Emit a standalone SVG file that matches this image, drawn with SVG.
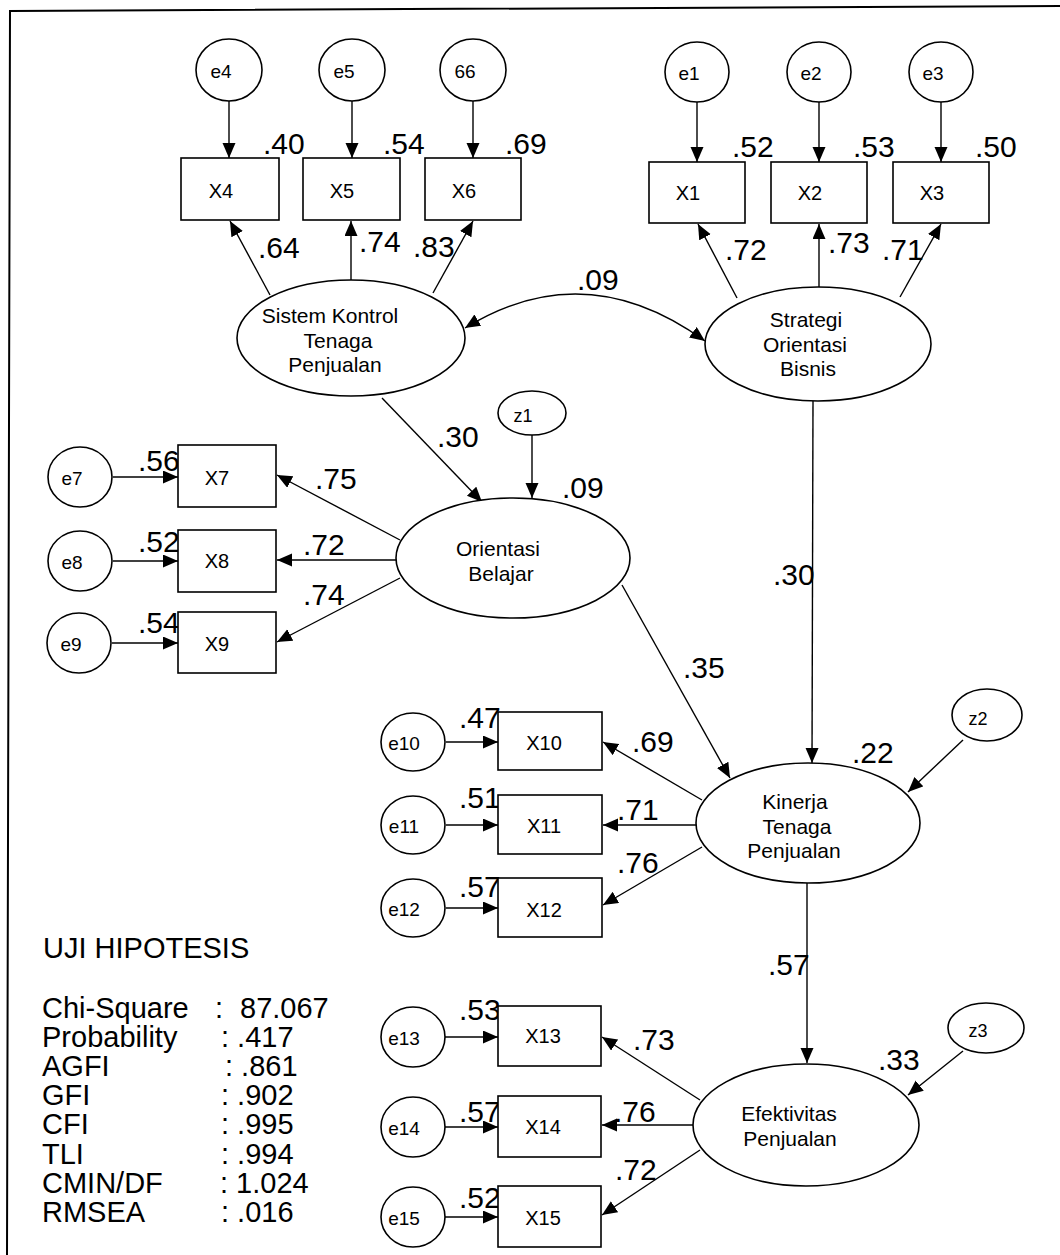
<svg xmlns="http://www.w3.org/2000/svg" width="1060" height="1255" viewBox="0 0 1060 1255">
<style>
text{font-family:"Liberation Sans",Arial,sans-serif;fill:#000}
.sh{fill:#fff;stroke:#000;stroke-width:1.6}
.ln{fill:none;stroke:#000;stroke-width:1.4}
.lab{font-size:30px}
.nt{font-size:21px;text-anchor:middle}
.bt{font-size:20px;text-anchor:middle}
.et{font-size:19px;text-anchor:middle}
.st{font-size:29px}
</style>
<defs>
<marker id="ah" markerUnits="userSpaceOnUse" markerWidth="16" markerHeight="14" refX="15" refY="6.5" orient="auto-start-reverse">
<path d="M0,0 L15,6.5 L0,13 z" fill="#000"/>
</marker>
</defs>
<rect width="1060" height="1255" fill="#fff"/>
<polyline points="7,1255 10,11 1060,6" fill="none" stroke="#000" stroke-width="2"/>

<g id="connectors">
<line class="ln" x1="229" y1="101" x2="229" y2="158" marker-end="url(#ah)"/>
<line class="ln" x1="352" y1="101" x2="352" y2="158" marker-end="url(#ah)"/>
<line class="ln" x1="473" y1="101" x2="473" y2="158" marker-end="url(#ah)"/>
<line class="ln" x1="697" y1="102" x2="697" y2="162" marker-end="url(#ah)"/>
<line class="ln" x1="819" y1="102" x2="819" y2="162" marker-end="url(#ah)"/>
<line class="ln" x1="941" y1="102" x2="941" y2="162" marker-end="url(#ah)"/>
<line class="ln" x1="270" y1="295" x2="230" y2="221" marker-end="url(#ah)"/>
<line class="ln" x1="351" y1="280" x2="351" y2="221" marker-end="url(#ah)"/>
<line class="ln" x1="433" y1="293" x2="473" y2="221" marker-end="url(#ah)"/>
<line class="ln" x1="737" y1="298" x2="698" y2="224" marker-end="url(#ah)"/>
<line class="ln" x1="819" y1="287" x2="819" y2="224" marker-end="url(#ah)"/>
<line class="ln" x1="900" y1="297" x2="941" y2="224" marker-end="url(#ah)"/>
<path class="ln" d="M465,328 Q585,254 705,341" marker-start="url(#ah)" marker-end="url(#ah)"/>
<line class="ln" x1="382" y1="398" x2="482" y2="502" marker-end="url(#ah)"/>
<line class="ln" x1="532" y1="435" x2="532" y2="498" marker-end="url(#ah)"/>
<line class="ln" x1="113" y1="477" x2="178" y2="477" marker-end="url(#ah)"/>
<line class="ln" x1="113" y1="561" x2="178" y2="561" marker-end="url(#ah)"/>
<line class="ln" x1="112" y1="643" x2="178" y2="643" marker-end="url(#ah)"/>
<line class="ln" x1="400" y1="540" x2="277" y2="475" marker-end="url(#ah)"/>
<line class="ln" x1="396" y1="560" x2="277" y2="560" marker-end="url(#ah)"/>
<line class="ln" x1="400" y1="578" x2="277" y2="642" marker-end="url(#ah)"/>
<line class="ln" x1="813" y1="401" x2="812" y2="763" marker-end="url(#ah)"/>
<line class="ln" x1="622" y1="585" x2="730" y2="778" marker-end="url(#ah)"/>
<line class="ln" x1="963" y1="740" x2="908" y2="792" marker-end="url(#ah)"/>
<line class="ln" x1="446" y1="742" x2="498" y2="742" marker-end="url(#ah)"/>
<line class="ln" x1="446" y1="825" x2="498" y2="825" marker-end="url(#ah)"/>
<line class="ln" x1="446" y1="908" x2="498" y2="908" marker-end="url(#ah)"/>
<line class="ln" x1="702" y1="800" x2="603" y2="742" marker-end="url(#ah)"/>
<line class="ln" x1="696" y1="825" x2="603" y2="825" marker-end="url(#ah)"/>
<line class="ln" x1="702" y1="847" x2="603" y2="905" marker-end="url(#ah)"/>
<line class="ln" x1="807" y1="883" x2="807" y2="1063" marker-end="url(#ah)"/>
<line class="ln" x1="963" y1="1051" x2="908" y2="1095" marker-end="url(#ah)"/>
<line class="ln" x1="445" y1="1037" x2="498" y2="1037" marker-end="url(#ah)"/>
<line class="ln" x1="445" y1="1127" x2="498" y2="1127" marker-end="url(#ah)"/>
<line class="ln" x1="445" y1="1217" x2="498" y2="1217" marker-end="url(#ah)"/>
<line class="ln" x1="700" y1="1100" x2="602" y2="1037" marker-end="url(#ah)"/>
<line class="ln" x1="693" y1="1125" x2="602" y2="1125" marker-end="url(#ah)"/>
<line class="ln" x1="700" y1="1150" x2="602" y2="1215" marker-end="url(#ah)"/>
</g>

<g id="connector-labels" class="lab">
<text x="263" y="154">.40</text>
<text x="383" y="154">.54</text>
<text x="505" y="154">.69</text>
<text x="732" y="157">.52</text>
<text x="853" y="157">.53</text>
<text x="975" y="157">.50</text>
<text x="258" y="258">.64</text>
<text x="359" y="252">.74</text>
<text x="413" y="257">.83</text>
<text x="725" y="260">.72</text>
<text x="828" y="253">.73</text>
<text x="882" y="260">.71</text>
<text x="577" y="290">.09</text>
<text x="437" y="447">.30</text>
<text x="562" y="498">.09</text>
<text x="138" y="471">.56</text>
<text x="138" y="552">.52</text>
<text x="138" y="633">.54</text>
<text x="315" y="489">.75</text>
<text x="303" y="555">.72</text>
<text x="303" y="605">.74</text>
<text x="773" y="585">.30</text>
<text x="683" y="678">.35</text>
<text x="852" y="763">.22</text>
<text x="459" y="728">.47</text>
<text x="459" y="808">.51</text>
<text x="459" y="897">.57</text>
<text x="632" y="752">.69</text>
<text x="617" y="820">.71</text>
<text x="617" y="873">.76</text>
<text x="768" y="975">.57</text>
<text x="878" y="1070">.33</text>
<text x="459" y="1020">.53</text>
<text x="459" y="1122">.57</text>
<text x="459" y="1208">.52</text>
<text x="633" y="1050">.73</text>
<text x="614" y="1122">.76</text>
<text x="615" y="1180">.72</text>
</g>

<g id="e4"><ellipse class="sh" cx="229" cy="70" rx="33" ry="31"/><text class="et" x="221" y="78">e4</text></g>
<g id="e5"><ellipse class="sh" cx="352" cy="70" rx="33" ry="31"/><text class="et" x="344" y="78">e5</text></g>
<g id="e66"><ellipse class="sh" cx="473" cy="70" rx="33" ry="31"/><text class="et" x="465" y="78">66</text></g>
<g id="e1"><ellipse class="sh" cx="697" cy="72" rx="32" ry="30"/><text class="et" x="689" y="80">e1</text></g>
<g id="e2"><ellipse class="sh" cx="819" cy="72" rx="32" ry="30"/><text class="et" x="811" y="80">e2</text></g>
<g id="e3"><ellipse class="sh" cx="941" cy="72" rx="32" ry="30"/><text class="et" x="933" y="80">e3</text></g>

<g id="X4"><rect class="sh" x="181" y="158" width="98" height="62"/><text class="bt" x="221" y="198">X4</text></g>
<g id="X5"><rect class="sh" x="303" y="158" width="97" height="62"/><text class="bt" x="342" y="198">X5</text></g>
<g id="X6"><rect class="sh" x="425" y="158" width="96" height="62"/><text class="bt" x="464" y="198">X6</text></g>
<g id="X1"><rect class="sh" x="649" y="162" width="96" height="61"/><text class="bt" x="688" y="200">X1</text></g>
<g id="X2"><rect class="sh" x="771" y="162" width="96" height="61"/><text class="bt" x="810" y="200">X2</text></g>
<g id="X3"><rect class="sh" x="893" y="162" width="96" height="61"/><text class="bt" x="932" y="200">X3</text></g>

<g id="SistemKontrol"><ellipse class="sh" cx="351" cy="338" rx="114" ry="58"/>
<text class="nt" x="330" y="323">Sistem Kontrol</text><text class="nt" x="338" y="347.5">Tenaga</text><text class="nt" x="335" y="372">Penjualan</text></g>
<g id="StrategiOrientasiBisnis"><ellipse class="sh" cx="818" cy="344" rx="113" ry="57"/>
<text class="nt" x="806" y="327">Strategi</text><text class="nt" x="805" y="351.5">Orientasi</text><text class="nt" x="808" y="376">Bisnis</text></g>

<g id="z1"><ellipse class="sh" cx="532" cy="413" rx="34" ry="22"/><text class="et" x="523" y="422" style="font-size:18px">z1</text></g>
<g id="OrientasiBelajar"><ellipse class="sh" cx="513" cy="558" rx="117" ry="60"/>
<text class="nt" x="498" y="556">Orientasi</text><text class="nt" x="501" y="580.5">Belajar</text></g>

<g id="e7"><ellipse class="sh" cx="80" cy="477" rx="32" ry="30"/><text class="et" x="72" y="485">e7</text></g>
<g id="e8"><ellipse class="sh" cx="80" cy="561" rx="32" ry="30"/><text class="et" x="72" y="569">e8</text></g>
<g id="e9"><ellipse class="sh" cx="79" cy="643" rx="32" ry="30"/><text class="et" x="71" y="651">e9</text></g>
<g id="X7"><rect class="sh" x="178" y="445" width="98" height="62"/><text class="bt" x="217" y="485">X7</text></g>
<g id="X8"><rect class="sh" x="178" y="530" width="98" height="62"/><text class="bt" x="217" y="568">X8</text></g>
<g id="X9"><rect class="sh" x="178" y="612" width="98" height="61"/><text class="bt" x="217" y="651">X9</text></g>

<g id="KinerjaTenagaPenjualan"><ellipse class="sh" cx="808" cy="823" rx="112" ry="60"/>
<text class="nt" x="795" y="809">Kinerja</text><text class="nt" x="797" y="833.5">Tenaga</text><text class="nt" x="794" y="858">Penjualan</text></g>
<g id="z2"><ellipse class="sh" cx="987" cy="715" rx="35" ry="26"/><text class="et" x="978" y="725" style="font-size:18px">z2</text></g>
<g id="e10"><ellipse class="sh" cx="413" cy="742" rx="32" ry="29"/><text class="et" x="404" y="750">e10</text></g>
<g id="e11"><ellipse class="sh" cx="413" cy="825" rx="32" ry="29"/><text class="et" x="404" y="833">e11</text></g>
<g id="e12"><ellipse class="sh" cx="413" cy="908" rx="32" ry="29"/><text class="et" x="404" y="916">e12</text></g>
<g id="X10"><rect class="sh" x="498" y="712" width="104" height="58"/><text class="bt" x="544" y="750">X10</text></g>
<g id="X11"><rect class="sh" x="498" y="795" width="104" height="59"/><text class="bt" x="544" y="833">X11</text></g>
<g id="X12"><rect class="sh" x="498" y="878" width="104" height="59"/><text class="bt" x="544" y="917">X12</text></g>

<g id="EfektivitasPenjualan"><ellipse class="sh" cx="806" cy="1125" rx="113" ry="61"/>
<text class="nt" x="789" y="1121">Efektivitas</text><text class="nt" x="790" y="1145.5">Penjualan</text></g>
<g id="z3"><ellipse class="sh" cx="986" cy="1028" rx="38" ry="25"/><text class="et" x="978" y="1037" style="font-size:18px">z3</text></g>
<g id="e13"><ellipse class="sh" cx="413" cy="1037" rx="32" ry="30"/><text class="et" x="404" y="1045">e13</text></g>
<g id="e14"><ellipse class="sh" cx="413" cy="1127" rx="32" ry="30"/><text class="et" x="404" y="1135">e14</text></g>
<g id="e15"><ellipse class="sh" cx="413" cy="1217" rx="32" ry="30"/><text class="et" x="404" y="1225">e15</text></g>
<g id="X13"><rect class="sh" x="498" y="1006" width="103" height="60"/><text class="bt" x="543" y="1043">X13</text></g>
<g id="X14"><rect class="sh" x="498" y="1096" width="103" height="61"/><text class="bt" x="543" y="1134">X14</text></g>
<g id="X15"><rect class="sh" x="498" y="1186" width="103" height="61"/><text class="bt" x="543" y="1225">X15</text></g>

<g id="stats" class="st">
<text x="43" y="958">UJI HIPOTESIS</text>
<text x="42" y="1018">Chi-Square</text><text x="215" y="1018">:</text><text x="240" y="1018">87.067</text>
<text x="42" y="1047">Probability</text><text x="221" y="1047">: .417</text>
<text x="42" y="1076">AGFI</text><text x="225" y="1076">: .861</text>
<text x="42" y="1105">GFI</text><text x="221" y="1105">: .902</text>
<text x="42" y="1134">CFI</text><text x="221" y="1134">: .995</text>
<text x="42" y="1164">TLI</text><text x="221" y="1164">: .994</text>
<text x="42" y="1193">CMIN/DF</text><text x="220" y="1193">: 1.024</text>
<text x="42" y="1222">RMSEA</text><text x="221" y="1222">: .016</text>
</g>
</svg>
